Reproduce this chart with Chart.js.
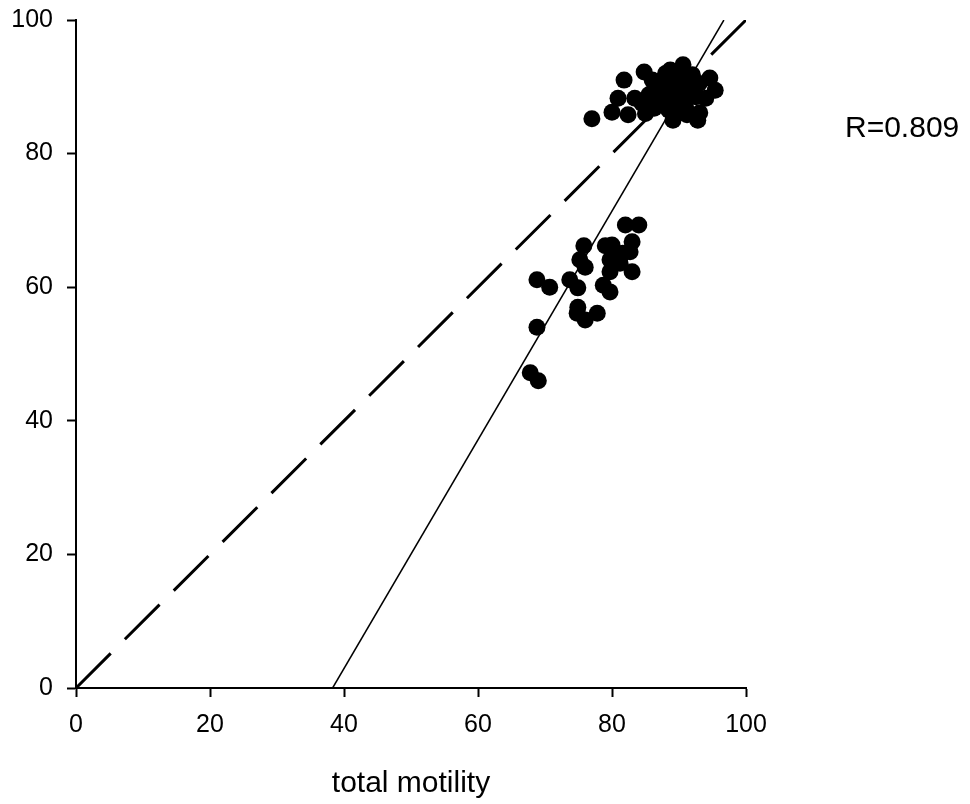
<!DOCTYPE html>
<html>
<head>
<meta charset="utf-8">
<script src="https://cdn.jsdelivr.net/npm/chart.js@4/dist/chart.umd.min.js"></script>
<style>
  html, body { margin: 0; padding: 0; background: #fff; }
</style>
</head>
<body>
<canvas id="chart" width="970" height="804"></canvas>
<script>
// total motility (x) against progressive motility (y), one entry per sample
var totalMotility = [
  81.8, 84.8, 77.0, 80.9, 80.0, 82.4, 83.4, 84.5, 85.5, 86.3, 86.7, 86.5, 87.5, 88.0,
  88.7, 89.5, 90.6, 90.0, 89.0, 88.0, 87.0, 91.0, 91.5, 92.0, 92.5, 93.0, 94.6, 95.4,
  94.0, 93.1, 91.2, 89.1, 92.8, 90.0, 88.5, 85.0, 86.0, 89.0, 90.5, 91.0, 92.0, 87.5,
  82.0, 84.0, 75.8, 79.0, 80.0, 83.0, 82.7, 75.2, 76.0, 79.7, 81.2, 81.6, 83.0, 79.7,
  68.8, 70.7, 73.7, 74.9, 78.7, 79.7, 74.9, 74.8, 76.0, 77.8, 68.8, 67.8, 69.0
];
var progressive = [
  91.0, 92.2, 85.2, 88.3, 86.2, 85.8, 88.3, 87.5, 88.8, 86.8, 87.7, 89.5, 91.0, 92.0,
  92.5, 91.5, 93.3, 90.0, 88.5, 88.0, 90.2, 91.5, 90.0, 89.0, 88.5, 90.5, 91.3, 89.5,
  88.3, 86.1, 85.8, 85.0, 85.0, 87.0, 86.5, 86.0, 91.0, 90.3, 88.8, 86.9, 91.8, 88.7,
  69.3, 69.3, 66.2, 66.2, 66.3, 66.8, 65.3, 64.1, 63.0, 64.1, 63.6, 65.1, 62.3, 62.3,
  61.1, 60.0, 61.1, 59.9, 60.3, 59.3, 57.0, 56.1, 55.1, 56.1, 54.0, 47.2, 46.0
];

// line of identity and the fitted regression line (end points)
var identityX = [0, 100];
var identityY = [0, 100];
var fitX = [38.3, 96.7];
var fitY = [0, 100];

var axisTicks = [0, 20, 40, 60, 80, 100];
var rText = 'R=0.809';

function toPoints(xs, ys) {
  return xs.map(function(x, i) { return { x: x, y: ys[i] }; });
}

var fontFamily = '"Liberation Sans", Arial, Helvetica, sans-serif';

var rLabel = {
  id: 'rLabel',
  afterDraw: function(chart) {
    var ctx = chart.ctx;
    ctx.save();
    ctx.font = '30px ' + fontFamily;
    ctx.fillStyle = '#000';
    ctx.textBaseline = 'alphabetic';
    ctx.textAlign = 'left';
    ctx.fillText(rText, 845, 137);
    ctx.restore();
  }
};

var axisBase = {
  type: 'linear',
  min: 0,
  max: 100,
  afterBuildTicks: function(scale) {
    scale.ticks = axisTicks.map(function(v) { return { value: v }; });
  },
  grid: {
    display: true,
    drawOnChartArea: false,
    drawTicks: true,
    tickLength: 9,
    tickWidth: 2,
    tickColor: '#000'
  },
  border: { display: true, color: '#000', width: 2 }
};

new Chart(document.getElementById('chart').getContext('2d'), {
  type: 'scatter',
  data: {
    datasets: [
      {
        label: 'samples',
        data: toPoints(totalMotility, progressive),
        backgroundColor: '#000',
        borderColor: '#000',
        pointRadius: 8.5,
        pointHoverRadius: 8.5,
        borderWidth: 0
      },
      {
        label: 'identity',
        data: toPoints(identityX, identityY),
        showLine: true,
        borderColor: '#000',
        borderWidth: 3,
        borderDash: [49, 20],
        pointRadius: 0,
        fill: false
      },
      {
        label: 'fit',
        data: toPoints(fitX, fitY),
        showLine: true,
        borderColor: '#000',
        borderWidth: 1.5,
        pointRadius: 0,
        fill: false
      }
    ]
  },
  options: {
    responsive: false,
    animation: false,
    devicePixelRatio: 1,
    layout: { padding: { left: 0, right: 224, top: 20, bottom: 0 } },
    plugins: {
      legend: { display: false },
      tooltip: { enabled: false }
    },
    scales: {
      x: Object.assign({}, axisBase, {
        position: 'bottom',
        ticks: { color: '#000', padding: 13, font: { family: fontFamily, size: 25 }, maxRotation: 0 },
        title: {
          display: true,
          text: 'total motility',
          color: '#000',
          font: { family: fontFamily, size: 30 },
          padding: { top: 0, bottom: 2 }
        },
        afterFit: function(scale) {
          scale.height = 116;
          scale.paddingLeft = 0;
          scale.paddingRight = 0;
        }
      }),
      y: Object.assign({}, axisBase, {
        position: 'left',
        ticks: { color: '#000', padding: 14, font: { family: fontFamily, size: 25 } },
        afterFit: function(scale) {
          scale.width = 76;
          scale.paddingTop = 0;
          scale.paddingBottom = 0;
        }
      })
    }
  },
  plugins: [rLabel]
});
</script>
</body>
</html>
